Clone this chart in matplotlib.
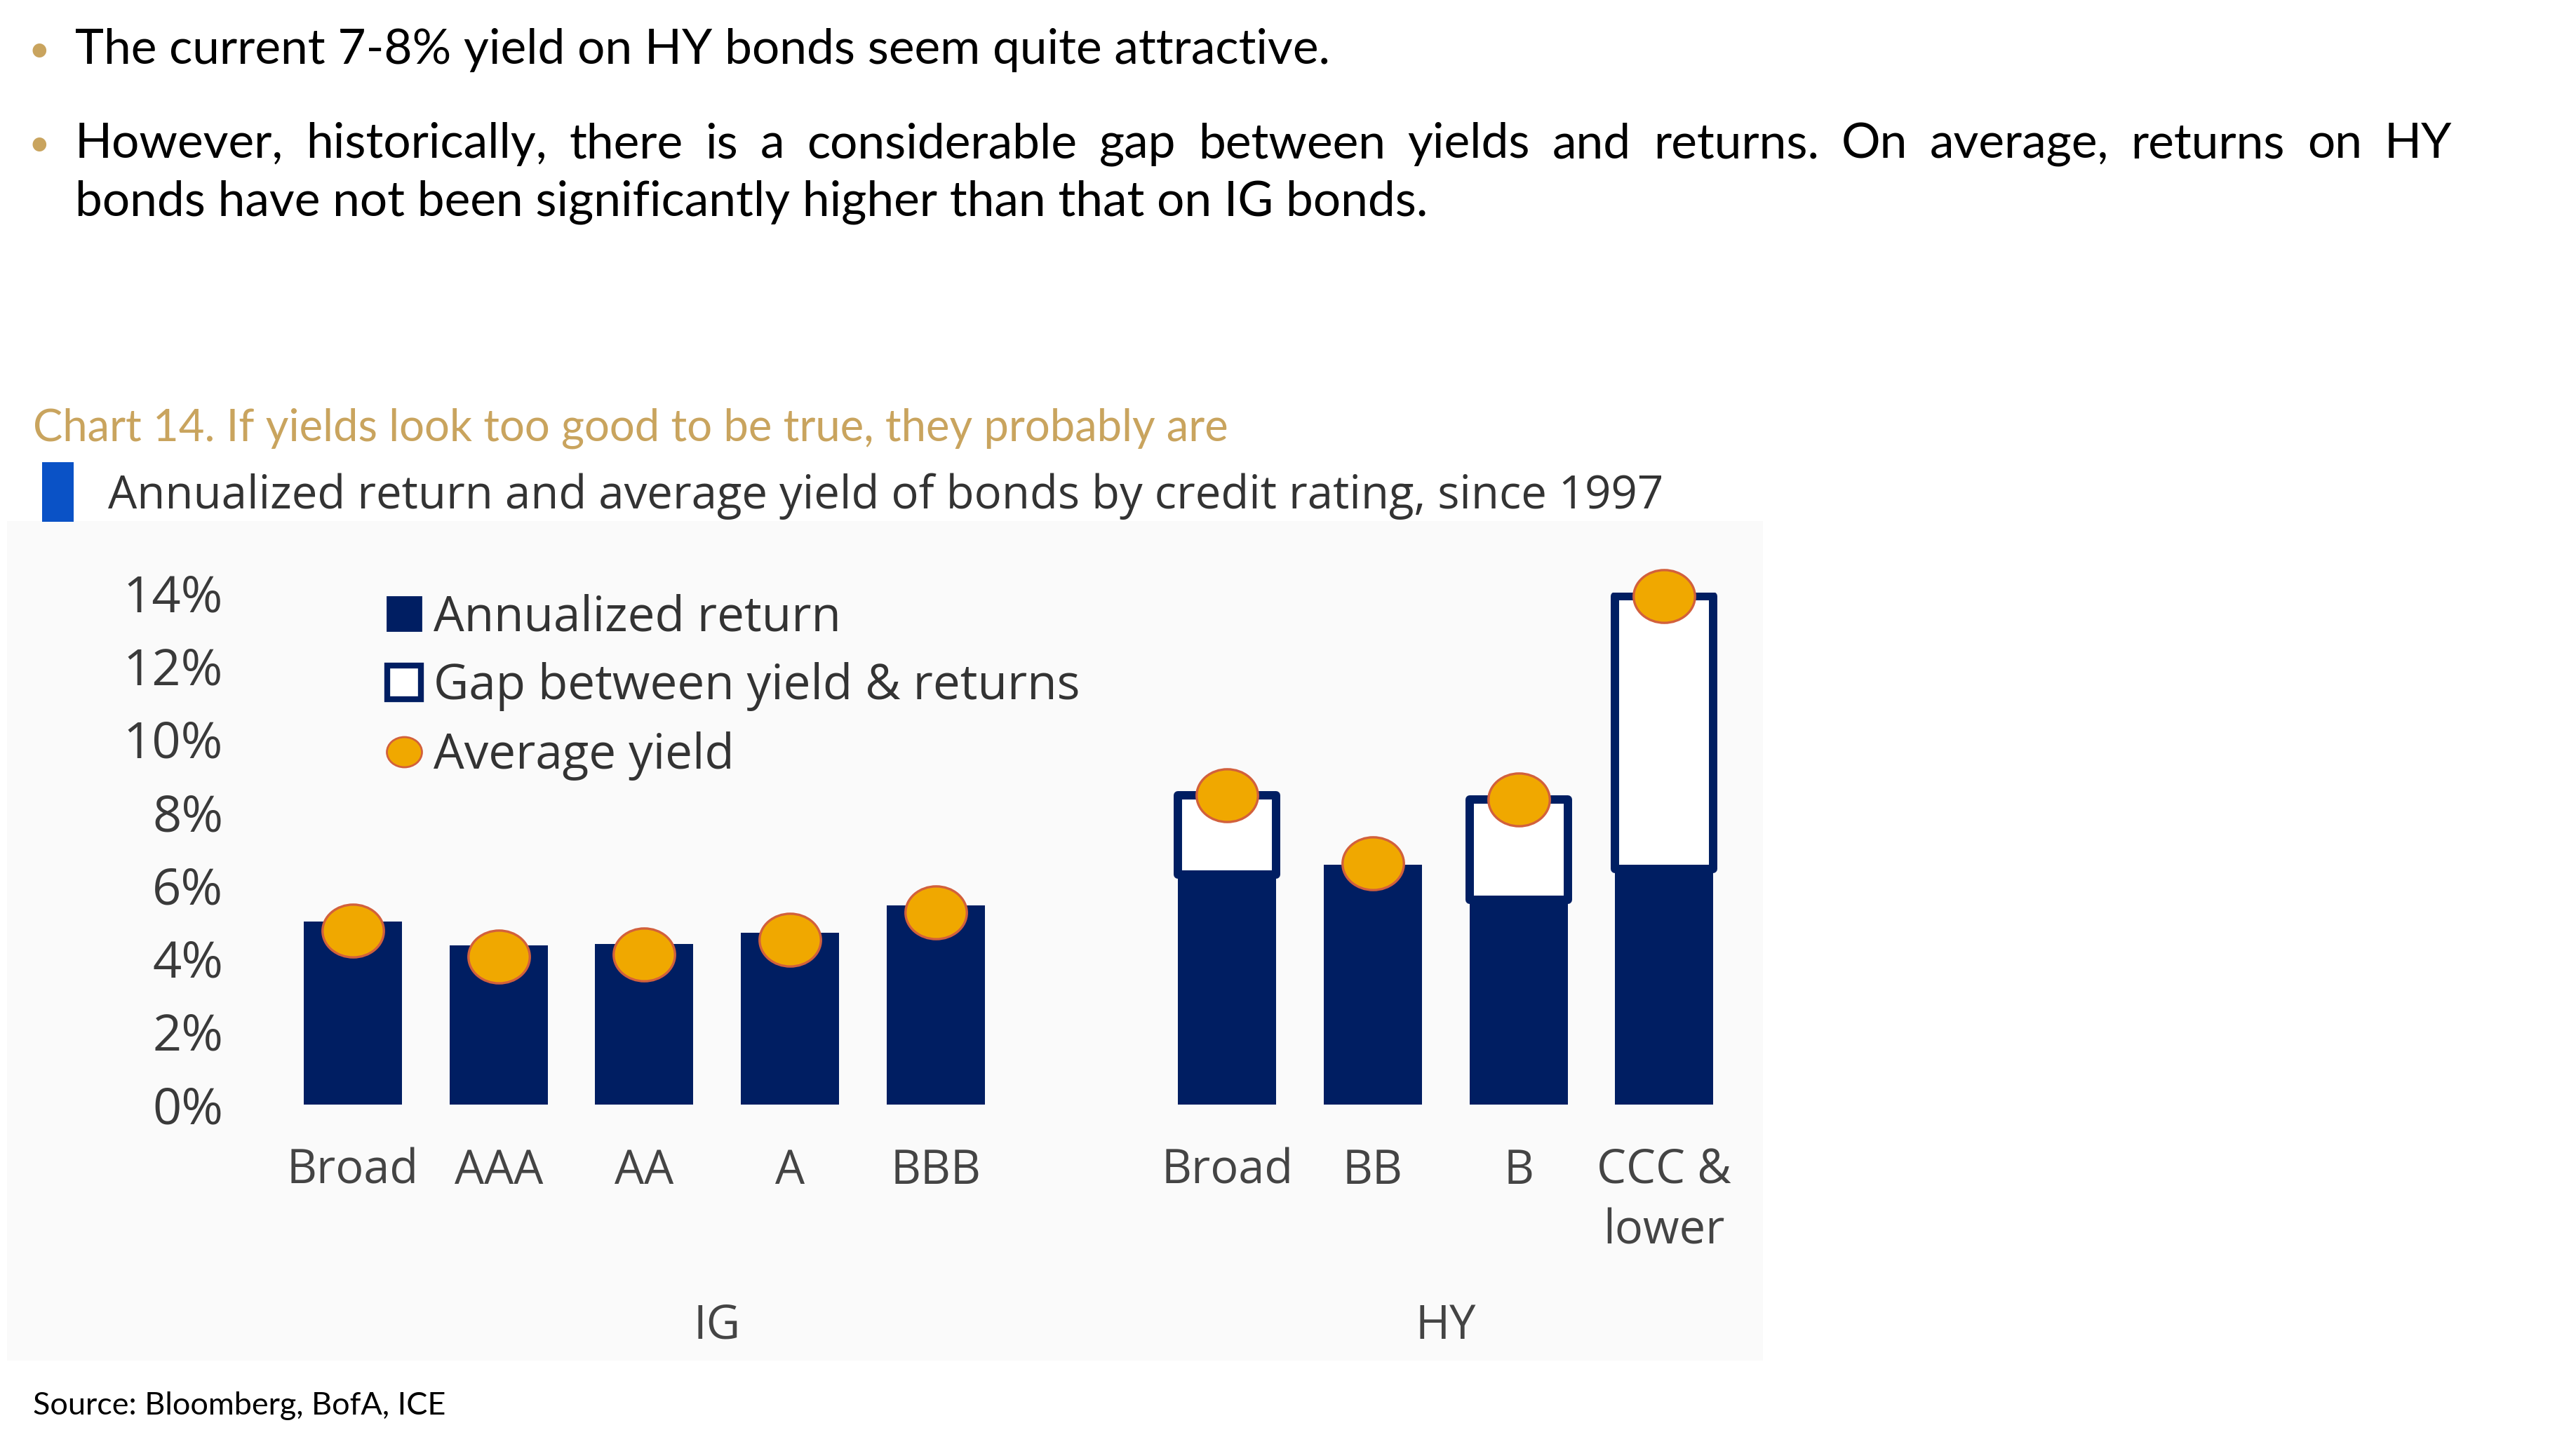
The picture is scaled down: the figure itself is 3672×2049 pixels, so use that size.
import numpy as np
import matplotlib
matplotlib.use("Agg")
import matplotlib.pyplot as plt
from matplotlib.patches import Patch, Rectangle
from matplotlib.lines import Line2D
from matplotlib.path import Path

# ---- données (en %) ----
notes = ["Broad", "AAA", "AA", "A", "BBB", "Broad", "BB", "B", "CCC &\nlower"]
groupes = ["IG", "IG", "IG", "IG", "IG", "HY", "HY", "HY", "HY"]
rendement_annuel = [5.0, 4.35, 4.4, 4.7, 5.45, 6.3, 6.55, 5.6, 6.45]
taux_moyen = [4.75, 4.05, 4.1, 4.5, 5.25, 8.45, 6.6, 8.35, 13.9]
graduations = [0, 2, 4, 6, 8, 10, 12, 14]

puces = [
    "The current 7-8% yield on HY bonds seem quite attractive.",
    "However, historically, there is a considerable gap between yields and returns. On average, returns on HY",
    "bonds have not been significantly higher than that on IG bonds.",
]
titre = "Chart 14. If yields look too good to be true, they probably are"
sous_titre = "Annualized return and average yield of bonds by credit rating, since 1997"
source = "Source: Bloomberg, BofA, ICE"

MARINE = "#001e62"
ORANGE = "#f0a800"
BORD = "#d2603c"
OR = "#c9a45e"

W, H = 3672, 2049
DPI = 200
fig = plt.figure(figsize=(W / DPI, H / DPI), dpi=DPI)
fig.patch.set_facecolor("white")


def fx(x):
    return x / W


def fy(y):
    return 1 - y / H


# fond très clair du graphique
fig.patches.append(Rectangle((fx(10), fy(1940)), fx(2513) - fx(10), fy(743) - fy(1940),
                             transform=fig.transFigure, facecolor="#fafafa", edgecolor="none", zorder=-5))

# ---- texte au-dessus ----
corps = "Lato"
fs_corps = 25
fig.text(fx(40), fy(88), "\u2022", fontsize=19, color=OR, family=corps, va="baseline")
fig.text(fx(107), fy(91), puces[0], fontsize=fs_corps, color="black", family=corps, va="baseline")
fig.text(fx(40), fy(222), "\u2022", fontsize=19, color=OR, family=corps, va="baseline")

# ligne justifiée
fig.canvas.draw()
rend = fig.canvas.get_renderer()
mots = puces[1].split(" ")
objs = [fig.text(0, fy(225), m, fontsize=fs_corps, color="black", family=corps, va="baseline")
        for m in mots]
larg = [o.get_window_extent(rend).width for o in objs]
x0, x1 = 107, 3495
ecart = (x1 - x0 - sum(larg)) / (len(mots) - 1)
x = x0
for o, l in zip(objs, larg):
    o.set_x(fx(x))
    x += l + ecart
fig.text(fx(107), fy(308), puces[2], fontsize=fs_corps, color="black", family=corps, va="baseline")

fig.text(fx(47), fy(628), titre, fontsize=22.8, color=OR, family=corps, va="baseline")
fig.patches.append(Rectangle((fx(60), fy(744)), fx(105) - fx(60), fy(659) - fy(744),
                             transform=fig.transFigure, facecolor="#0a52c6", edgecolor="none"))
fig.text(fx(154), fy(725), sous_titre, fontsize=23.5, color="#333333", family="Open Sans", va="baseline")
fig.text(fx(47), fy(2017), source, fontsize=16.2, color="black", family=corps, va="baseline")

# ---- graphique ----
pos = []
p = 0
for i, g in enumerate(groupes):
    if i > 0 and g != groupes[i - 1]:
        p += 1
    pos.append(p)
    p += 1
pos = np.array(pos, dtype=float)

ax = fig.add_axes([fx(300), fy(1575), fx(2540) - fx(300), fy(845) - fy(1575)])
ax.set_facecolor("none")
ax.set_xlim((300 - 503) / 207.7, (2540 - 503) / 207.7)
ax.set_ylim(0, 14)

largeur = 0.675
ret = np.array(rendement_annuel)
yld = np.array(taux_moyen)
ecarts = np.where(yld - ret > 0.2, yld - ret, 0)
sel = ecarts > 0
ax.bar(pos, ret, width=largeur, color=MARINE, zorder=2)
ax.bar(pos[sel], ecarts[sel], bottom=ret[sel], width=largeur, facecolor="white",
       edgecolor=MARINE, linewidth=4.3, joinstyle="round", zorder=3)

cercle = Path.unit_circle()
ellipse = Path(cercle.vertices * np.array([1.0, 0.86]), cercle.codes)
ax.plot(pos, yld, ls="none", marker=ellipse, markersize=31.5, markerfacecolor=ORANGE,
        markeredgecolor=BORD, markeredgewidth=1.2, clip_on=False, zorder=5)

ax.set_yticks(graduations)
ax.set_yticklabels([f"{v}%" for v in graduations], fontsize=26, color="#3a3a3a", family="Open Sans")
ax.tick_params(axis="y", length=0, pad=-6.5)
ax.set_xticks(pos)
ax.set_xticklabels(notes, fontsize=24, color="#444444", family="Open Sans", linespacing=1.35)
ax.tick_params(axis="x", length=0, pad=22)
for s in ax.spines.values():
    s.set_visible(False)

# IG / HY : centrés sur l'étendue de chaque groupe (l'espace vide appartient à IG)
noms_groupes = ["IG", "HY"]
for k, g in enumerate(noms_groupes):
    xs = pos[[i for i, gg in enumerate(groupes) if gg == g]]
    gauche = xs.min() - 0.5
    droite = xs.max() + 0.5 + (1 if k < len(noms_groupes) - 1 else 0)
    ax.text((gauche + droite) / 2, -0.433, g, transform=ax.get_xaxis_transform(), ha="center",
            va="center", fontsize=24, color="#444444", family="Open Sans")

# légende
poignees = [
    Patch(facecolor=MARINE, edgecolor=MARINE),
    Patch(facecolor="white", edgecolor=MARINE, linewidth=3),
    Line2D([], [], ls="none", marker=ellipse, markersize=18, markerfacecolor=ORANGE,
           markeredgecolor=BORD, markeredgewidth=1),
]
leg = ax.legend(poignees, ["Annualized return", "Gap between yield & returns", "Average yield"],
                loc="upper left", bbox_to_anchor=(fx(552), fy(846)), bbox_transform=fig.transFigure,
                frameon=False, borderpad=0, borderaxespad=0, handlelength=0.7, handleheight=0.7,
                handletextpad=0.25, labelspacing=0.41, prop={"family": "Open Sans", "size": 24.9})
for t in leg.get_texts():
    t.set_color("#333333")

fig.savefig("out.png", dpi=DPI)
